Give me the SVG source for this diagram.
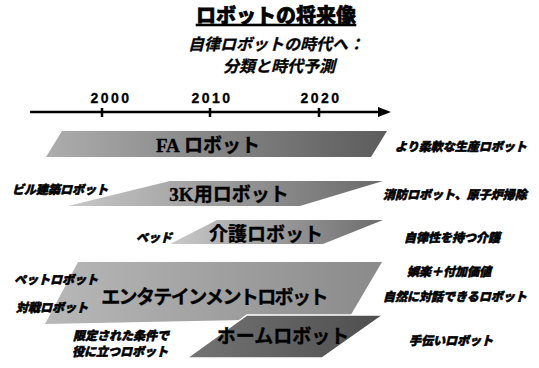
<svg xmlns="http://www.w3.org/2000/svg" width="539" height="368" viewBox="0 0 539 368">
<defs>
<style>
.jp{font-family:"Noto Sans CJK JP","Liberation Sans",sans-serif;fill:#000}
.title{font-size:20px;font-weight:900;text-decoration:underline;stroke:#000;stroke-width:0.6}
.sub{font-size:16px;font-weight:700;font-style:italic;stroke:#000;stroke-width:0.3}
.yr{font-family:"Liberation Sans",sans-serif;font-size:14px;font-weight:700;letter-spacing:2.5px;stroke:#000;stroke-width:0.3}
.lbl{font-size:12px;font-weight:900;font-style:italic;stroke:#000;stroke-width:0.55}
.bar{font-size:19px;font-weight:700;stroke:#000;stroke-width:0.35}
.ser{font-family:"Liberation Serif",serif;font-weight:700}
</style>
<linearGradient id="gFA" x1="0" y1="0" x2="1" y2="0">
<stop offset="0" stop-color="#adadad"/><stop offset="1" stop-color="#5c5c5c"/>
</linearGradient>
<linearGradient id="g3K" x1="0" y1="0" x2="1" y2="0">
<stop offset="0" stop-color="#c8c8c8"/><stop offset="1" stop-color="#6a6a6a"/>
</linearGradient>
<linearGradient id="gKG" x1="0" y1="0" x2="1" y2="0">
<stop offset="0" stop-color="#cacaca"/><stop offset="1" stop-color="#6c6c6c"/>
</linearGradient>
<linearGradient id="gEN" x1="0" y1="0" x2="1" y2="0">
<stop offset="0" stop-color="#b8b8b8"/><stop offset="1" stop-color="#8a8a8a"/>
</linearGradient>
<linearGradient id="gHM" x1="0" y1="0" x2="1" y2="0">
<stop offset="0" stop-color="#747474"/><stop offset="1" stop-color="#4e4e4e"/>
</linearGradient>
</defs>

<g id="title">
<text class="jp title" x="276" y="23" text-anchor="middle">ロボットの将来像</text>
<text class="jp sub" x="276" y="50" text-anchor="middle">自律ロボットの時代へ：</text>
<text class="jp sub" x="279" y="72" text-anchor="middle">分類と時代予測</text>
</g>

<g id="connectors">
<line x1="30" y1="112" x2="380" y2="112" stroke="#000" stroke-width="2.5"/>
<polygon points="378,107 391,112 378,117" fill="#000"/>
<line x1="102" y1="108" x2="102" y2="117" stroke="#000" stroke-width="2.5"/>
<line x1="210" y1="108" x2="210" y2="117" stroke="#000" stroke-width="2.5"/>
<line x1="319" y1="108" x2="319" y2="117" stroke="#000" stroke-width="2.5"/>
</g>

<g id="years">
<text class="yr" x="111" y="103" text-anchor="middle">2000</text>
<text class="yr" x="212" y="103" text-anchor="middle">2010</text>
<text class="yr" x="321" y="103" text-anchor="middle">2020</text>
</g>

<g id="fa-robot">
<polygon points="62,131 387,131 371,157 46,157" fill="url(#gFA)"/>
<text class="jp bar" x="208" y="152" text-anchor="middle"><tspan class="ser">FA</tspan> ロボット</text>
<text class="jp lbl" x="461" y="151" text-anchor="middle">より柔軟な生産ロボット</text>
</g>

<g id="3k-robot">
<polygon points="170,181 383,181 300,206 68,206" fill="url(#g3K)"/>
<text class="jp bar" x="229" y="201" text-anchor="middle"><tspan class="ser">3K</tspan>用ロボット</text>
<text class="jp lbl" x="60" y="194" text-anchor="middle">ビル建築ロボット</text>
<text class="jp lbl" x="455" y="199" text-anchor="middle">消防ロボット、原子炉掃除</text>
</g>

<g id="care-robot">
<polygon points="217,220 383,220 323,244 170,244" fill="url(#gKG)"/>
<text class="jp bar" x="266" y="241" text-anchor="middle">介護ロボット</text>
<text class="jp lbl" x="154" y="242" text-anchor="middle">ベッド</text>
<text class="jp lbl" x="452" y="242" text-anchor="middle">自律性を持つ介護</text>
</g>

<g id="entertainment-robot">
<polygon points="78,262 382,262 349,318 45,324" fill="url(#gEN)"/>
<text class="jp bar" x="214" y="304" text-anchor="middle" letter-spacing="-1.6">エンタテインメントロボット</text>
<text class="jp lbl" x="56" y="284" text-anchor="middle">ペットロボット</text>
<text class="jp lbl" x="52" y="312" text-anchor="middle">対戦ロボット</text>
<text class="jp lbl" x="449" y="276" text-anchor="middle">娯楽＋付加価値</text>
<text class="jp lbl" x="455" y="301" text-anchor="middle">自然に対話できるロボット</text>
</g>

<g id="home-robot">
<polygon points="247,315 383,315 322,358 187,358" fill="url(#gHM)" stroke="#fff" stroke-width="1.5"/>
<text class="jp bar" x="283" y="343" text-anchor="middle">ホームロボット</text>
<text class="jp lbl" x="121" y="340" text-anchor="middle">限定された条件で</text>
<text class="jp lbl" x="120" y="356" text-anchor="middle">役に立つロボット</text>
<text class="jp lbl" x="451" y="345" text-anchor="middle">手伝いロボット</text>
</g>
</svg>
